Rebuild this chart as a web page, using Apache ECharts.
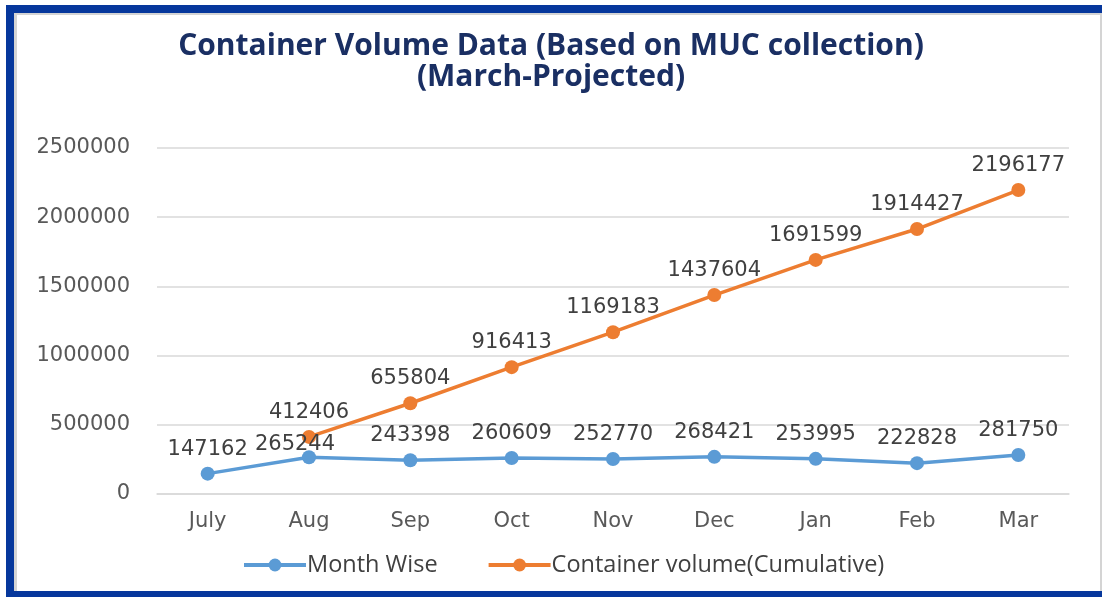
<!DOCTYPE html>
<html>
<head>
<meta charset="utf-8">
<script src="https://cdn.jsdelivr.net/npm/echarts@6/dist/echarts.min.js"></script>
<style>
    body { margin: 0; background: #fff; }
    #wrap { position: relative; width: 1102px; height: 597px; overflow: hidden; }
    #main { position: absolute; left: 0; top: 0; width: 1102px; height: 597px; }
    .band { position: absolute; background: #06379c; }
    .shade { position: absolute; background: #d4d4d4; }
</style>
</head>
<body>
<div id="wrap">
    <div id="main"></div>
    <div class="band" style="left:6px;top:5px;width:1096px;height:8px"></div>
    <div class="shade" style="left:14px;top:13px;width:1088px;height:2px"></div>
    <div class="band" style="left:6px;top:5px;width:8px;height:592px"></div>
    <div class="shade" style="left:14px;top:13px;width:3px;height:578px"></div>
    <div class="band" style="left:6px;top:591px;width:1096px;height:6px"></div>
    <div class="shade" style="left:1100px;top:13px;width:2px;height:578px"></div>
</div>
<script>
var months = ['July', 'Aug', 'Sep', 'Oct', 'Nov', 'Dec', 'Jan', 'Feb', 'Mar'];
var monthWise = [147162, 265244, 243398, 260609, 252770, 268421, 253995, 222828, 281750];
var cumulative = ['-', 412406, 655804, 916413, 1169183, 1437604, 1691599, 1914427, 2196177];
var yTicks = [0, 500000, 1000000, 1500000, 2000000, 2500000];

(function () {
    var myChart = echarts.init(document.getElementById('main'));

    var numFont = 'DejaVu Sans';

    // Aug label of the monthly line is nudged left like in the original
    var monthData = monthWise.map(function (v, i) {
        if (i === 1) {
            return {value: v, label: {offset: [-14, 12]}};
        }
        return v;
    });

    option = {
        backgroundColor: '#fff',
        animation: false,
        title: {
            text: 'Container Volume Data (Based on MUC collection)\n(March-Projected)',
            left: 'center',
            top: 26,
            textStyle: {
                fontFamily: 'Open Sans',
                fontWeight: 'bold',
                fontSize: 30,
                lineHeight: 31,
                color: '#1a2f63'
            }
        },
        legend: {
            left: 237,
            top: 548,
            itemWidth: 62,
            itemHeight: 16,
            itemGap: 49,
            lineStyle: {width: 4},
            textStyle: {
                fontFamily: 'Open Sans',
                fontSize: 23.5,
                color: '#404040',
                padding: [0, 0, 0, -4]
            },
            data: ['Month Wise', 'Container volume(Cumulative)']
        },
        grid: {
            left: 157,
            right: 33,
            top: 148,
            bottom: 103
        },
        xAxis: {
            type: 'category',
            data: months,
            axisTick: {show: false},
            axisLine: {lineStyle: {color: '#d9d9d9', width: 1.5}},
            axisLabel: {
                margin: 17,
                fontFamily: numFont,
                fontSize: 21,
                color: '#595959'
            }
        },
        yAxis: {
            type: 'value',
            min: yTicks[0],
            max: yTicks[yTicks.length - 1],
            interval: 500000,
            axisLine: {show: false},
            axisTick: {show: false},
            splitLine: {lineStyle: {color: '#d9d9d9', width: 1.5}},
            axisLabel: {
                margin: 27,
                fontFamily: numFont,
                fontSize: 21,
                color: '#595959',
                formatter: function (v) { return String(v); }
            }
        },
        series: [
            {
                name: 'Month Wise',
                type: 'line',
                data: monthData,
                symbol: 'circle',
                symbolSize: 14,
                lineStyle: {width: 3.5, color: '#5b9bd5'},
                itemStyle: {color: '#5b9bd5'},
                label: {
                    show: true,
                    position: 'top',
                    distance: 7,
                    fontFamily: numFont,
                    fontSize: 21,
                    color: '#404040'
                }
            },
            {
                name: 'Container volume(Cumulative)',
                type: 'line',
                data: cumulative,
                symbol: 'circle',
                symbolSize: 14,
                lineStyle: {width: 3.5, color: '#ed7d31'},
                itemStyle: {color: '#ed7d31'},
                label: {
                    show: true,
                    position: 'top',
                    distance: 7,
                    fontFamily: numFont,
                    fontSize: 21,
                    color: '#404040'
                }
            }
        ]
    };
    myChart.setOption(option);
})();
</script>
</body>
</html>
